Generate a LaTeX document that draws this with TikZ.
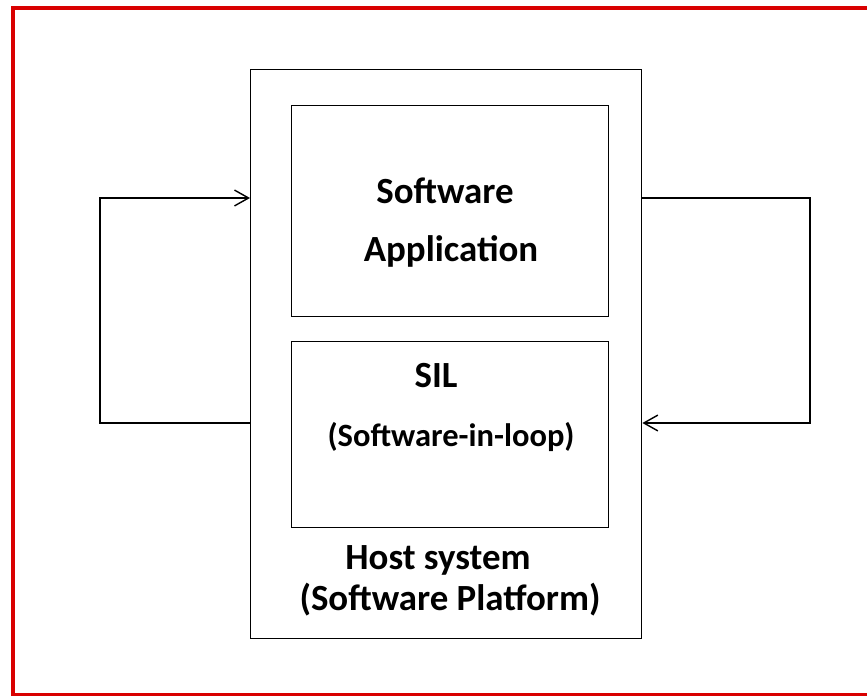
\documentclass[tikz,border=0pt]{standalone}
\usepackage{fontspec}
\setmainfont{Carlito}
\usetikzlibrary{arrows.meta}

\begin{document}
\begin{tikzpicture}[x=0.02cm,y=-0.02cm,
  block/.style={draw,line width=0.8pt,minimum width=317*0.02cm,inner sep=0pt,anchor=north west},
  label/.style={font=\bfseries\fontsize{21}{25}\selectfont,inner sep=0pt},
  small/.style={font=\bfseries\fontsize{18.5}{22}\selectfont,inner sep=0pt},
  loop/.style={line width=0.8pt,-{Straight Barb[length=8pt,width=9pt,line width=0.8pt]}}]
  \useasboundingbox (0,0) rectangle (867,696);
  \draw[red!85!black,line width=2.8pt] (867,8) -- (13,8) -- (13,696);
  \draw[red!85!black,line width=2.8pt] (13,695) -- (867,695);
  \node[block,minimum height=569*0.02cm,minimum width=391*0.02cm] (host) at (250,69) {};
  \node[block,minimum height=211*0.02cm] (app) at (291,105) {};
  \node[block,minimum height=186*0.02cm] (sil) at (291,341) {};
  \node[label] (soft) at (445,191) {Software};
  \node[label] (appl) at (451,251) {Application};
  \node[label] (siltxt) at (436,376) {SIL};
  \node[small] (silsub) at (451,437) {(Software-in-loop)};
  \node[label] (hosttxt) at (438,560) {Host system};
  \node[label] (hostsub) at (450,600) {(Software Platform)};
  \coordinate (l1) at (100,423);
  \coordinate (l2) at (100,198);
  \coordinate (r1) at (810,198);
  \coordinate (r2) at (810,423);
  \draw[loop] (host.west |- l1) -- (l1) -- (l2) -- (host.west |- l2);
  \draw[loop] (host.east |- r1) -- (r1) -- (r2) -- (host.east |- r2);
\end{tikzpicture}
\end{document}
